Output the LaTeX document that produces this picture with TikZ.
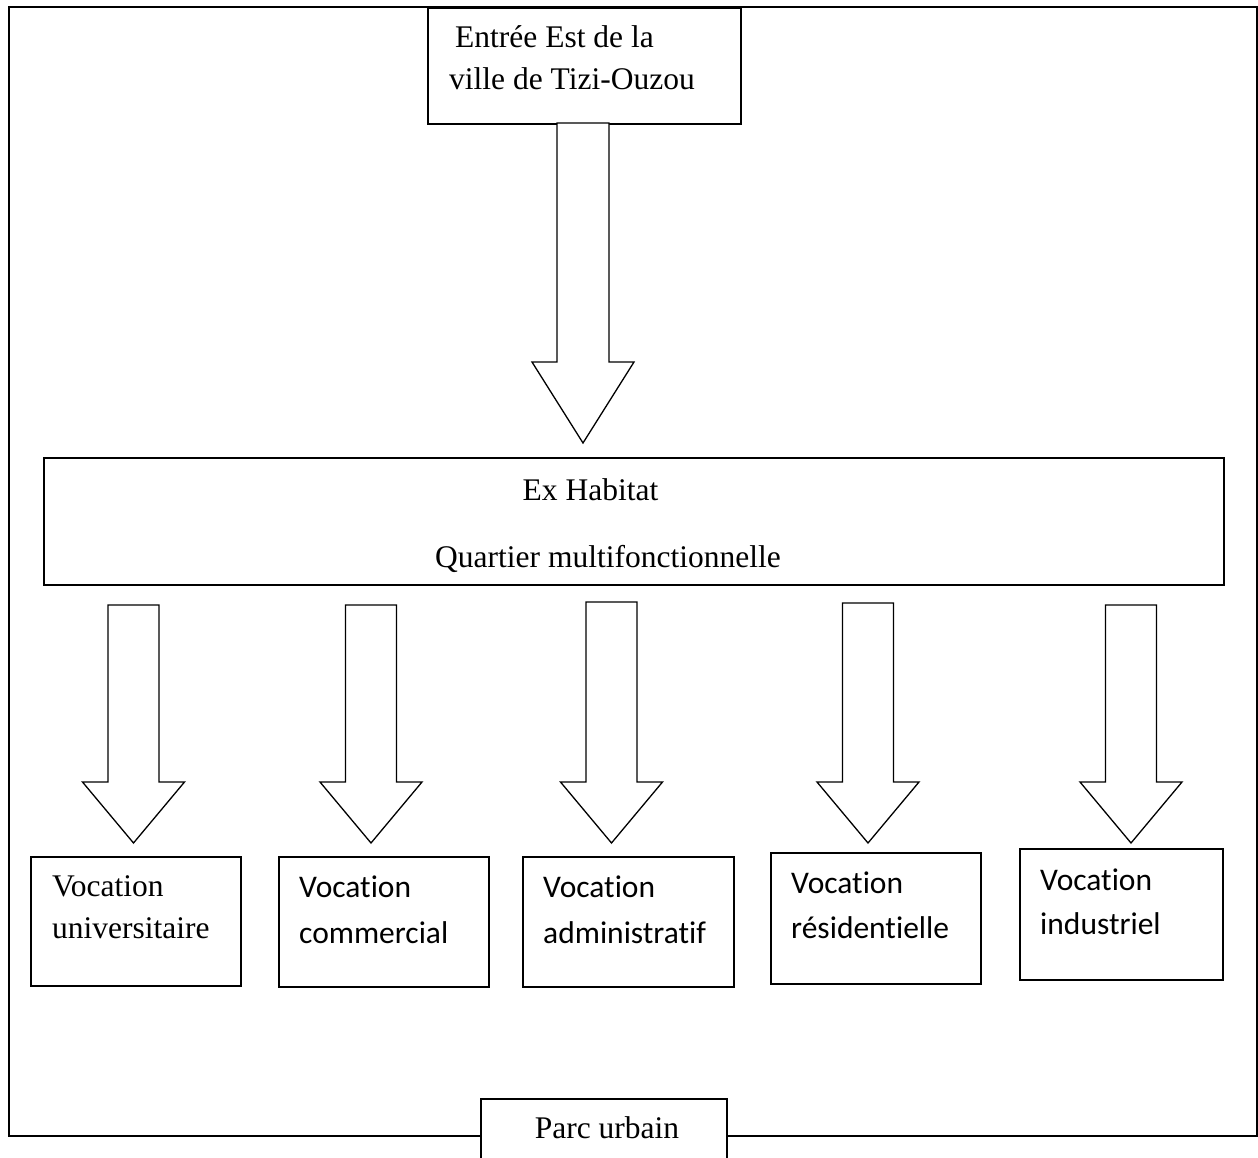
\documentclass[tikz,border=0pt]{standalone}
\usepackage{fontspec}
\setmainfont{Liberation Serif}
\newfontfamily\calfont[Ligatures={NoCommon,NoContextual}]{Carlito}
\newcommand\blockdown[6]{% x-centre, top y, head y, tip y, shaft half, head half
  \draw[barrow] ({#1-#5},#2) -- ({#1-#5},#3) -- ({#1-#6},#3) -- (#1,#4) -- ({#1+#6},#3) -- ({#1+#5},#3) -- ({#1+#5},#2) -- cycle;}
\begin{document}
\begin{tikzpicture}[x=1pt,y=-1pt,
  box/.style={draw,line width=1.8pt,fill=white,inner sep=0pt,anchor=north west},
  lbl/.style={anchor=base west,inner sep=0pt,font=\fontsize{31.5}{42}\selectfont},
  clbl/.style={anchor=base west,inner sep=0pt,font=\calfont\fontsize{31.5}{42}\selectfont},
  barrow/.style={draw,line width=1.3pt,line join=miter,fill=white}]
\useasboundingbox (0,0) rectangle (1258,1158);
\clip (0,0) rectangle (1258,1158);
\fill[white] (0,0) rectangle (1258,1158);
% outer frame
\draw[line width=1.8pt] (9,7) rectangle (1257,1136);

% top box
\node[box,minimum width=313pt,minimum height=116pt] (top) at (427,7) {};
\node[lbl] (t1) at (455,48) {Entrée Est de la};
\node[lbl] (t2) at (449,90) {ville de Tizi-Ouzou};

% big arrow
\blockdown{583}{123}{362}{443}{26}{51}

% Ex Habitat box
\node[box,minimum width=1180pt,minimum height=127pt] (ex) at (43,457) {};
\node[lbl,anchor=base] (ex1) at (590.5,500) {Ex Habitat};
\node[lbl,anchor=base] (ex2) at (608,567) {Quartier multifonctionnelle};

% small arrows
\blockdown{133.5}{605}{782}{843}{25.5}{51}
\blockdown{371}{605}{782}{843}{25.5}{51}
\blockdown{611.5}{602}{782}{843}{25.5}{51}
\blockdown{868}{603}{782}{843}{25.5}{51}
\blockdown{1131}{605}{782}{843}{25.5}{51}

% vocation boxes
\node[box,minimum width=210pt,minimum height=129pt] (b1) at (30,856) {};
\node[lbl] (b1a) at (52,896) {Vocation};
\node[lbl] (b1b) at (52,938) {universitaire};

\node[box,minimum width=210pt,minimum height=130pt] (b2) at (278,856) {};
\node[clbl] (b2a) at (299,897) {Vocat\kern0pt ion};
\node[clbl] (b2b) at (299,943) {commercial};

\node[box,minimum width=211pt,minimum height=130pt] (b3) at (522,856) {};
\node[clbl] (b3a) at (543,897) {Vocat\kern0pt ion};
\node[clbl] (b3b) at (543,943) {administrat\kern0pt if};

\node[box,minimum width=210pt,minimum height=131pt] (b4) at (770,852) {};
\node[clbl] (b4a) at (791,893) {Vocat\kern0pt ion};
\node[clbl] (b4b) at (791,938) {résident\kern0pt ielle};

\node[box,minimum width=203pt,minimum height=131pt] (b5) at (1019,848) {};
\node[clbl] (b5a) at (1040,890) {Vocat\kern0pt ion};
\node[clbl] (b5b) at (1040,934) {industriel};

% parc urbain
\node[box,minimum width=246pt,minimum height=90pt] (parc) at (480,1098) {};
\node[lbl,anchor=base] (parct) at (607,1138) {Parc urbain};
\end{tikzpicture}
\end{document}
